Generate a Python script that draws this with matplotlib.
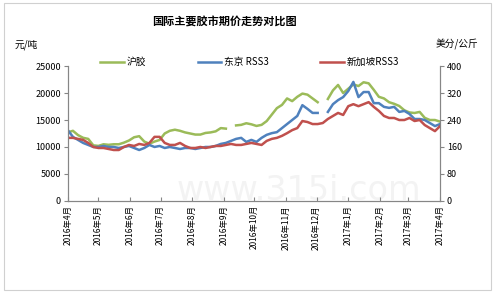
import numpy as np
import pandas as pd
import matplotlib
matplotlib.use('Agg')
import matplotlib.pyplot as plt
import matplotlib.patches as patches

plt.rcParams['font.family'] = ['Noto Sans CJK SC', 'DejaVu Sans']

# data: one reading every 5 days from 2016-04-01
dates = pd.date_range('2016-04-01', periods=74, freq='5D')
nan = np.nan
shfe = [12700, 13000, 12200, 11700, 11500, 10300, 10200, 10500, 10400, 10500,
        10500, 10800, 11200, 11800, 12000, 11000, 10600, 11000, 11300, 12500,
        13000, 13200, 13000, 12700, 12500, 12300, 12300, 12600, 12700, 12900,
        13500, 13400, nan, 14000, 14100, 14400, 14200, 13900, 14100, 14800,
        16000, 17200, 17800, 19000, 18500, 19300, 19900, 19700, 19000, 18300,
        nan, 18900, 20500, 21500, 20000, 20800, 21600, 21300, 22000, 21800,
        20600, 19300, 19000, 18300, 18000, 17600, 16800, 16400, 16300, 16500,
        15400, 15000, 15000, 14700]
tokyo = [210, 190, 181, 172, 166, 160, 160, 163, 160, 160,
         157, 160, 163, 157, 151, 157, 166, 160, 163, 157,
         160, 157, 154, 157, 157, 154, 157, 160, 160, 163,
         169, 172, 178, 184, 187, 175, 181, 175, 187, 196,
         201, 204, 216, 228, 240, 252, 284, 273, 261, 261,
         nan, 264, 287, 299, 308, 326, 353, 308, 323, 323,
         290, 290, 279, 276, 279, 264, 267, 258, 243, 243,
         240, 231, 222, 228]
sgx = [187, 187, 184, 181, 172, 160, 157, 157, 154, 151,
       151, 160, 166, 163, 169, 166, 172, 190, 190, 172,
       166, 166, 172, 163, 157, 157, 160, 157, 160, 163,
       163, 166, 169, 166, 166, 169, 172, 169, 166, 178,
       184, 187, 193, 201, 210, 216, 237, 234, 228, 228,
       231, 243, 252, 261, 255, 281, 287, 281, 287, 293,
       279, 267, 252, 246, 246, 240, 240, 246, 237, 240,
       225, 216, 207, 222]

month_ticks = pd.date_range('2016-04-01', '2017-04-01', freq='MS')
month_labels = ['2016年4月', '2016年5月', '2016年6月', '2016年7月', '2016年8月',
                '2016年9月', '2016年10月', '2016年11月', '2016年12月', '2017年1月',
                '2017年2月', '2017年3月', '2017年4月']
left_ticks = [0, 5000, 10000, 15000, 20000, 25000]
right_ticks = [0, 80, 160, 240, 320, 400]

green = '#9BBB59'
blue = '#4F81BD'
red = '#C0504D'
grey = '#868686'

fig = plt.figure(figsize=(4.95, 2.95), dpi=100)
fig.patch.set_facecolor('white')
fig.add_artist(patches.Rectangle((0.008, 0.017), 0.983, 0.973, transform=fig.transFigure,
                                 fill=False, edgecolor='#d0d0d0', linewidth=0.8))

ax = fig.add_axes([0.137, 0.319, 0.752, 0.457])
ax2 = ax.twinx()
ax.set_zorder(ax2.get_zorder() - 1)
ax2.patch.set_visible(False)

# faint watermark
ax.text(0.62, 0.08, 'www.315i.com', transform=ax.transAxes, ha='center', va='center',
        fontsize=24, color='#f3f3f3', zorder=0, family='DejaVu Sans')

l1, = ax.plot(dates, shfe, color=green, lw=1.8, label='沪胶')
l2, = ax2.plot(dates, tokyo, color=blue, lw=1.8, label='东京 RSS3')
l3, = ax2.plot(dates, sgx, color=red, lw=1.8, label='新加坡RSS3')

ax.set_xlim(month_ticks[0], month_ticks[-1])
ax.set_ylim(0, 25000)
ax2.set_ylim(0, 400)
ax.set_yticks(left_ticks)
ax2.set_yticks(right_ticks)
ax.set_xticks(month_ticks)
ax.set_xticklabels(month_labels, rotation=90, fontsize=6)
ax.tick_params(axis='y', direction='out', length=3, labelsize=6.5, color=grey, pad=2)
ax2.tick_params(axis='y', direction='out', length=3, labelsize=6.5, color=grey, pad=2)
ax.tick_params(axis='x', direction='in', length=3, color=grey, pad=3)

for a in (ax, ax2):
    a.spines['top'].set_visible(False)
    for s in ('left', 'right', 'bottom'):
        a.spines[s].set_color(grey)
        a.spines[s].set_linewidth(0.8)

fig.text(0.453, 0.925, '国际主要胶市期价走势对比图', ha='center', va='center',
         fontsize=8, fontweight='bold')
fig.text(0.03, 0.85, '元/吨', ha='left', va='center', fontsize=7)
fig.text(0.966, 0.848, '美分/公斤', ha='right', va='center', fontsize=7)

fig.legend(handles=[l1, l2, l3], loc='center left', bbox_to_anchor=(0.185, 0.79),
           ncol=3, frameon=False, fontsize=7, handlelength=2.4, handletextpad=0.3,
           columnspacing=5.3)

fig.savefig('out.png', dpi=100)
